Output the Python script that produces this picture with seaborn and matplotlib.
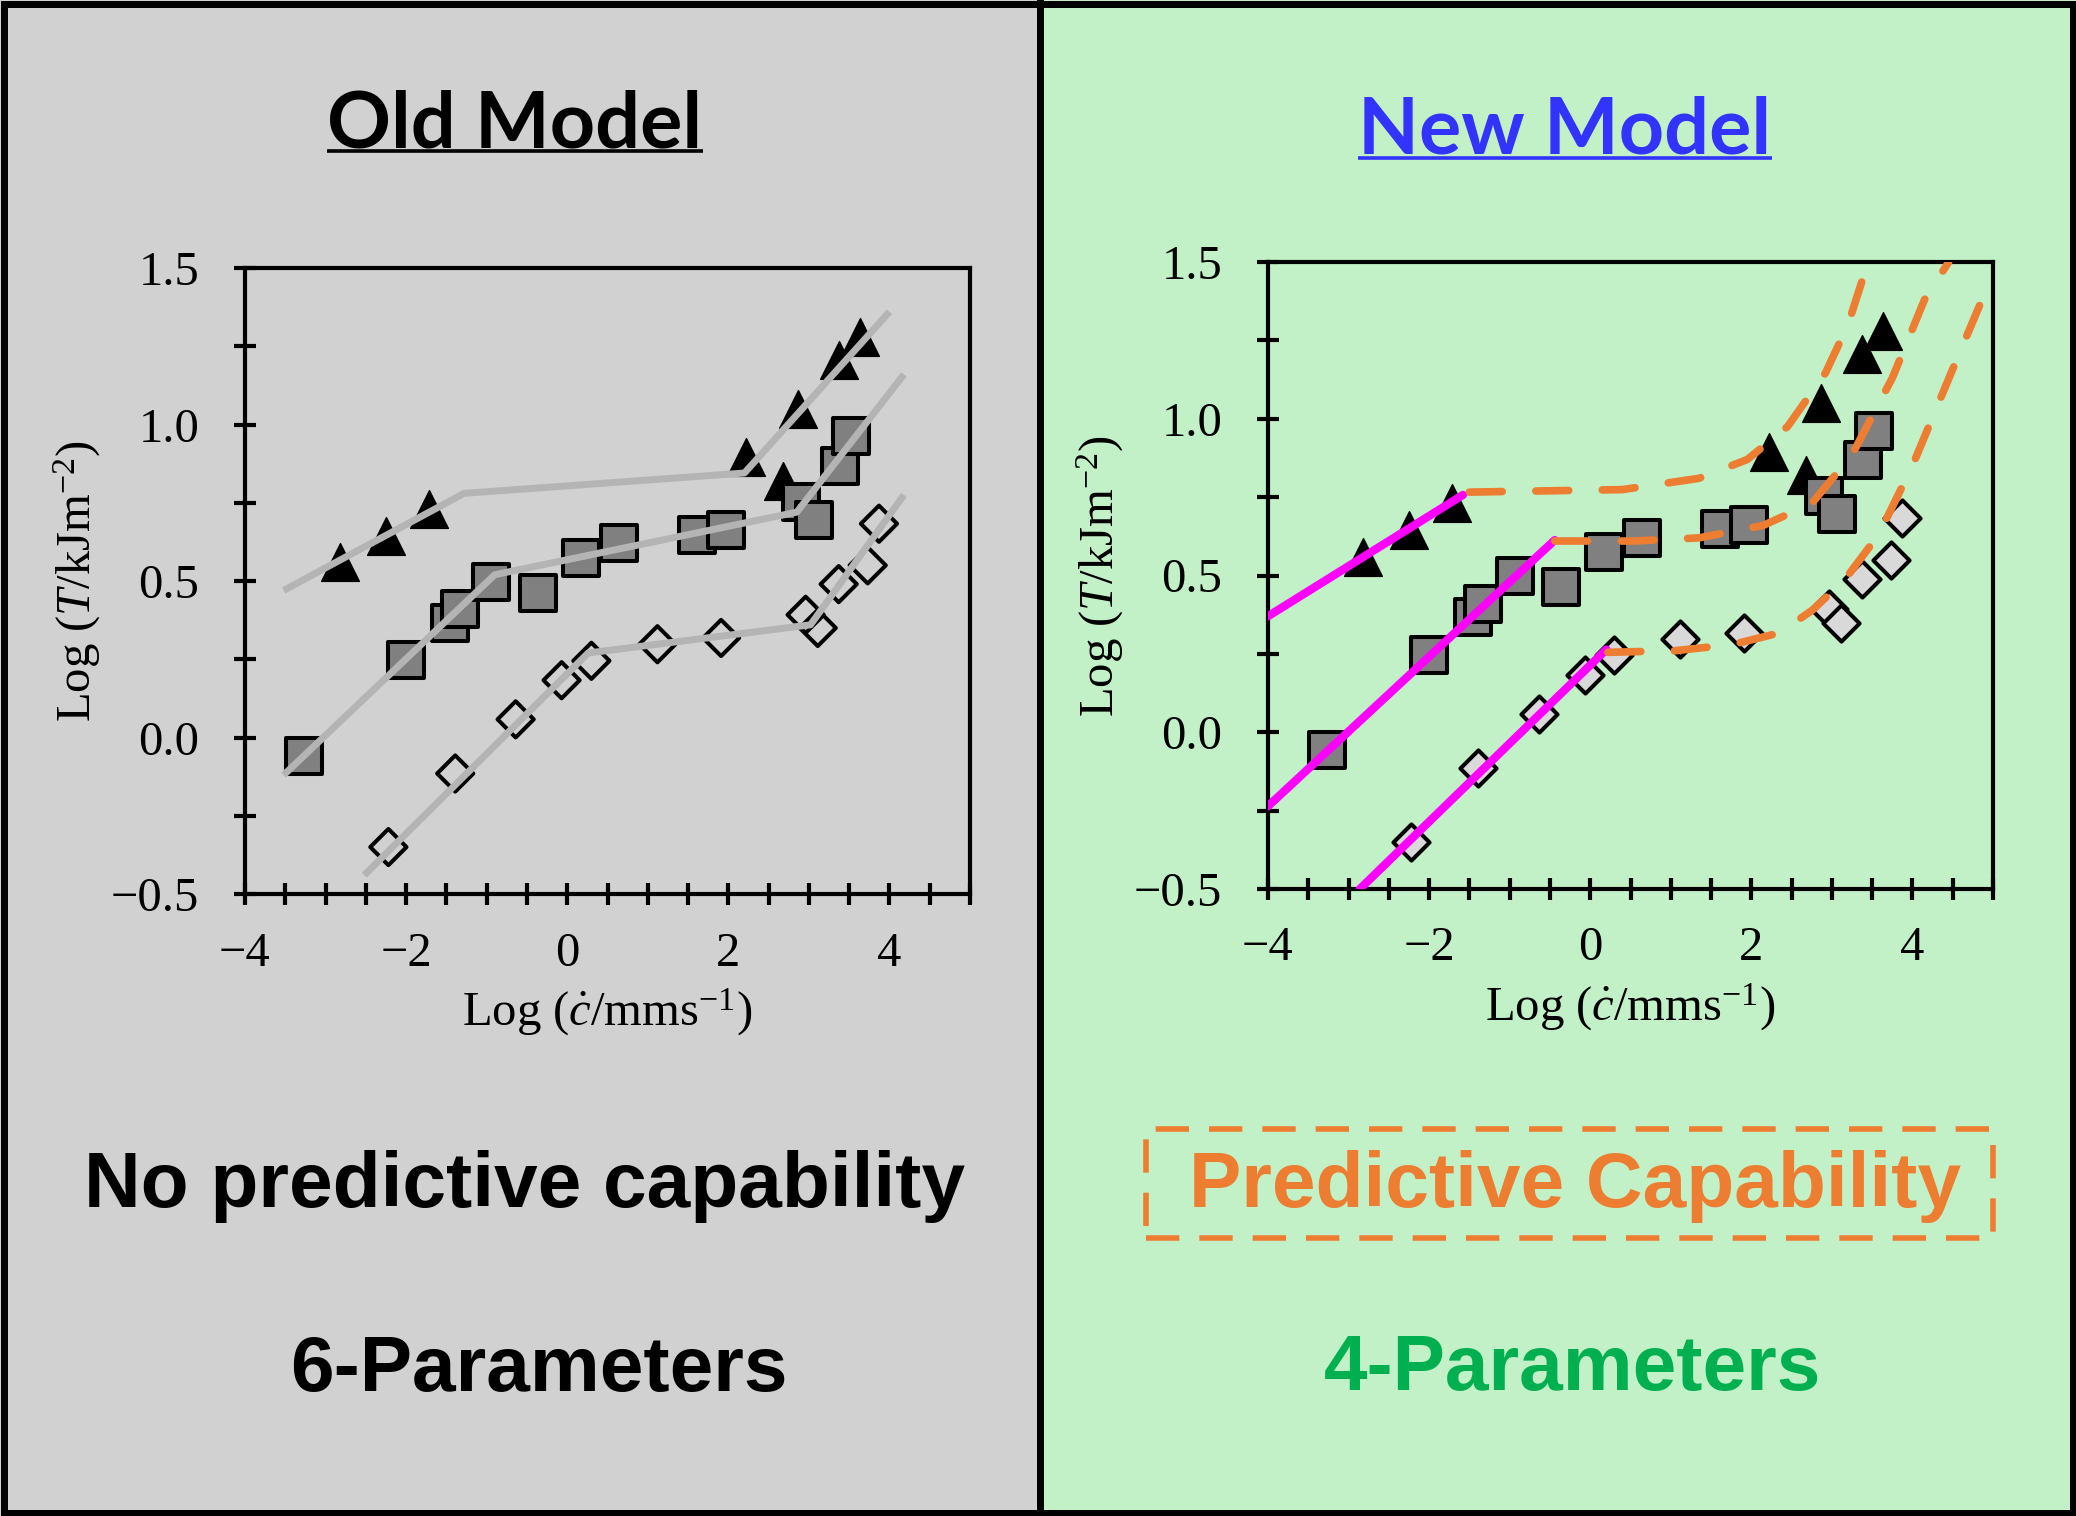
import numpy as np
import pandas as pd
import matplotlib
matplotlib.use("Agg")
import matplotlib.pyplot as plt
import seaborn as sns
from matplotlib.patches import Rectangle
from matplotlib.lines import Line2D
from matplotlib.ticker import MultipleLocator, FixedLocator, FuncFormatter

# ---------------- data ----------------
tri_x = [-2.82, -2.25, -1.72, 2.22, 2.68, 2.87, 3.37, 3.64]
tri_y = [0.56, 0.645, 0.73, 0.895, 0.82, 1.05, 1.205, 1.28]

sq_x = [-3.27, -2.00, -1.45, -1.33, -0.94, -0.36, 0.17, 0.64, 1.61, 1.97, 2.90, 3.06, 3.39, 3.52]
sq_y = [-0.058, 0.248, 0.367, 0.41, 0.497, 0.462, 0.575, 0.62, 0.648, 0.662, 0.752, 0.696, 0.869, 0.962]

dia_x = [-2.22, -1.39, -0.64, -0.07, 0.30, 1.12, 1.91, 2.96, 3.11, 3.37, 3.73, 3.87]
dia_y = [-0.35, -0.115, 0.058, 0.183, 0.245, 0.298, 0.318, 0.392, 0.35, 0.49, 0.55, 0.683]

# old model (grey piecewise lines)
old_tri_x = [-3.52, -1.28, 2.20, 4.00]
old_tri_y = [0.47, 0.78, 0.845, 1.36]
old_sq_x = [-3.52, -0.90, 2.85, 4.18]
old_sq_y = [-0.12, 0.52, 0.72, 1.16]
old_dia_x = [-2.52, 0.26, 3.02, 4.18]
old_dia_y = [-0.44, 0.27, 0.36, 0.775]

# new model: fitted lines (magenta)
fit_tri_x = [-4.0, -1.58]
fit_tri_y = [0.37, 0.757]
fit_sq_x = [-4.0, -0.44]
fit_sq_y = [-0.236, 0.613]
fit_dia_x = [-2.86, 0.20]
fit_dia_y = [-0.50, 0.264]

# new model: predictions (orange dashed)
pred_tri_x = [-1.50, 0.40, 1.35, 1.95, 2.45, 2.92, 3.20, 3.45]
pred_tri_y = [0.766, 0.774, 0.81, 0.87, 0.975, 1.146, 1.30, 1.50]
pred_sq_x = [-0.44, 0.55, 1.35, 2.15, 2.75, 3.25, 3.75, 4.15, 4.45]
pred_sq_y = [0.61, 0.61, 0.62, 0.66, 0.73, 0.885, 1.13, 1.38, 1.50]
pred_dia_x = [0.22, 1.05, 1.77, 2.35, 2.76, 3.17, 3.58, 4.00, 4.48, 4.93]
pred_dia_y = [0.255, 0.26, 0.28, 0.317, 0.39, 0.49, 0.63, 0.85, 1.146, 1.42]

x_major = [-4, -2, 0, 2, 4]

# ---------------- style ----------------
sns.set_style("ticks")
plt.rcParams['font.family'] = ['Liberation Serif', 'DejaVu Serif']
plt.rcParams['mathtext.fontset'] = 'custom'
plt.rcParams['mathtext.rm'] = 'Liberation Serif'
plt.rcParams['mathtext.it'] = 'Liberation Serif:italic'
plt.rcParams['mathtext.bf'] = 'Liberation Serif:bold'
for k in ['text.color', 'axes.labelcolor', 'xtick.color', 'ytick.color',
          'xtick.labelcolor', 'ytick.labelcolor', 'axes.edgecolor']:
    plt.rcParams[k] = 'black'

W, H = 2076, 1516
fig = plt.figure(figsize=(W / 100, H / 100), dpi=100)


def fx(px):
    return px / W


def fy(py):
    return 1 - py / H


GRAY_BG = '#d1d1d1'
GREEN_BG = '#c2f1c8'
ORANGE = '#ed7d31'
MAGENTA = '#ff00ff'
LINE_GRAY = '#b4b4b4'

fig.patches.append(Rectangle((0, 0), fx(1040), 1, transform=fig.transFigure,
                             facecolor=GRAY_BG, edgecolor='none', zorder=-5))
fig.patches.append(Rectangle((fx(1040), 0), 1 - fx(1040), 1, transform=fig.transFigure,
                             facecolor=GREEN_BG, edgecolor='none', zorder=-5))
bw = 7 * 72 / 100
fig.patches.append(Rectangle((fx(3.5), 3.5 / H), (W - 7) / W, (H - 7) / H, transform=fig.transFigure,
                             fill=False, edgecolor='black', linewidth=bw, zorder=-4))
fig.lines.append(Line2D([fx(1039.5), fx(1039.5)], [0, 1], transform=fig.transFigure,
                        color='black', linewidth=bw, zorder=-4))

ax1 = fig.add_axes([245 / W, 1 - 894 / H, 725 / W, 626 / H])
ax2 = fig.add_axes([1268 / W, 1 - 889 / H, 725 / W, 627 / H])


def minus_fmt(fmt):
    return FuncFormatter(lambda v, p: (fmt % v).replace('-', '\u2212'))


def style(ax):
    ax.set_xlim(-4, 5)
    ax.set_ylim(-0.5, 1.5)
    ax.patch.set_alpha(0)
    for s in ax.spines.values():
        s.set_linewidth(3)
        s.set_color('black')
        s.set_visible(True)
    ax.xaxis.set_major_locator(FixedLocator(x_major))
    ax.xaxis.set_minor_locator(MultipleLocator(0.5))
    ax.yaxis.set_major_locator(MultipleLocator(0.5))
    ax.yaxis.set_minor_locator(MultipleLocator(0.25))
    ax.xaxis.set_major_formatter(minus_fmt('%d'))
    ax.yaxis.set_major_formatter(minus_fmt('%.1f'))
    ax.tick_params(which='both', direction='inout', length=16, width=3,
                   top=False, right=False, color='black', labelcolor='black')
    ax.tick_params(axis='x', which='major', pad=19, labelsize=35)
    ax.tick_params(axis='y', which='major', pad=25, labelsize=35)
    ax.set_xlabel(r'Log ($\dot{c}$/mms$^{-1}$)', fontsize=35, labelpad=8, color='black')
    ax.set_ylabel(r'Log ($T$/kJm$^{-2}$)', fontsize=35, labelpad=6, color='black')
    ax.grid(False)


def markers(ax, dia_face):
    sns.scatterplot(x=tri_x, y=tri_y, marker='^', s=740, color='black',
                    edgecolor='black', linewidth=1, ax=ax, zorder=3, legend=False)
    sns.scatterplot(x=sq_x, y=sq_y, marker='s', s=670, color='#808080',
                    edgecolor='black', linewidth=2.9, ax=ax, zorder=3, legend=False)
    sns.scatterplot(x=dia_x, y=dia_y, marker='D', s=340, facecolor=dia_face,
                    edgecolor='black', linewidth=2.9, ax=ax, zorder=3, legend=False)


# left: old model
markers(ax1, 'none')
for xs, ys in [(old_tri_x, old_tri_y), (old_sq_x, old_sq_y), (old_dia_x, old_dia_y)]:
    ax1.plot(xs, ys, color=LINE_GRAY, lw=5, solid_capstyle='butt', zorder=4)
style(ax1)

# right: new model
markers(ax2, '#d9d9d9')
for xs, ys in [(fit_tri_x, fit_tri_y), (fit_sq_x, fit_sq_y), (fit_dia_x, fit_dia_y)]:
    ax2.plot(xs, ys, color=MAGENTA, lw=6, solid_capstyle='round', zorder=4)
for xs, ys in [(pred_tri_x, pred_tri_y), (pred_sq_x, pred_sq_y), (pred_dia_x, pred_dia_y)]:
    ax2.plot(xs, ys, color=ORANGE, lw=5.5, linestyle=(0, (4.3, 4.4)),
             dash_capstyle='round', zorder=4)
style(ax2)

# ---------------- texts ----------------
title_kw = dict(fontfamily=['Lato', 'DejaVu Sans'], fontweight='bold', fontsize=57,
                ha='center', va='baseline')
t_old = fig.text(fx(515), fy(147), 'Old Model', color='black', **title_kw)
t_new = fig.text(fx(1565), fy(153), 'New Model', color='#3333ff', **title_kw)

body_kw = dict(fontfamily=['Liberation Sans', 'DejaVu Sans'], fontweight='bold',
               fontsize=56.5, ha='center', va='baseline')
fig.text(fx(525), fy(1207), 'No predictive capability', color='black', **body_kw)
fig.text(fx(539), fy(1391), '6-Parameters', color='black', **body_kw)
fig.text(fx(1575), fy(1207), 'Predictive Capability', color=ORANGE, **body_kw)
fig.text(fx(1573), fy(1390), '4-Parameters', color='#00b050', **body_kw)

fig.patches.append(Rectangle((fx(1146), fy(1238)), fx(1993) - fx(1146), fy(1129) - fy(1238),
                             transform=fig.transFigure, fill=False, edgecolor=ORANGE,
                             linewidth=4, linestyle=(0, (6, 3.6)), zorder=2))

# underline the titles
fig.canvas.draw()
for t, base_py, off, col in [(t_old, 147, 4, 'black'), (t_new, 153, 5, '#3333ff')]:
    bb = t.get_window_extent()
    yline = fy(base_py + off)
    fig.lines.append(Line2D([bb.x0 / W, bb.x1 / W], [yline, yline], transform=fig.transFigure,
                            color=col, linewidth=2.6, solid_capstyle='butt'))

fig.savefig('out.png', dpi=100)
